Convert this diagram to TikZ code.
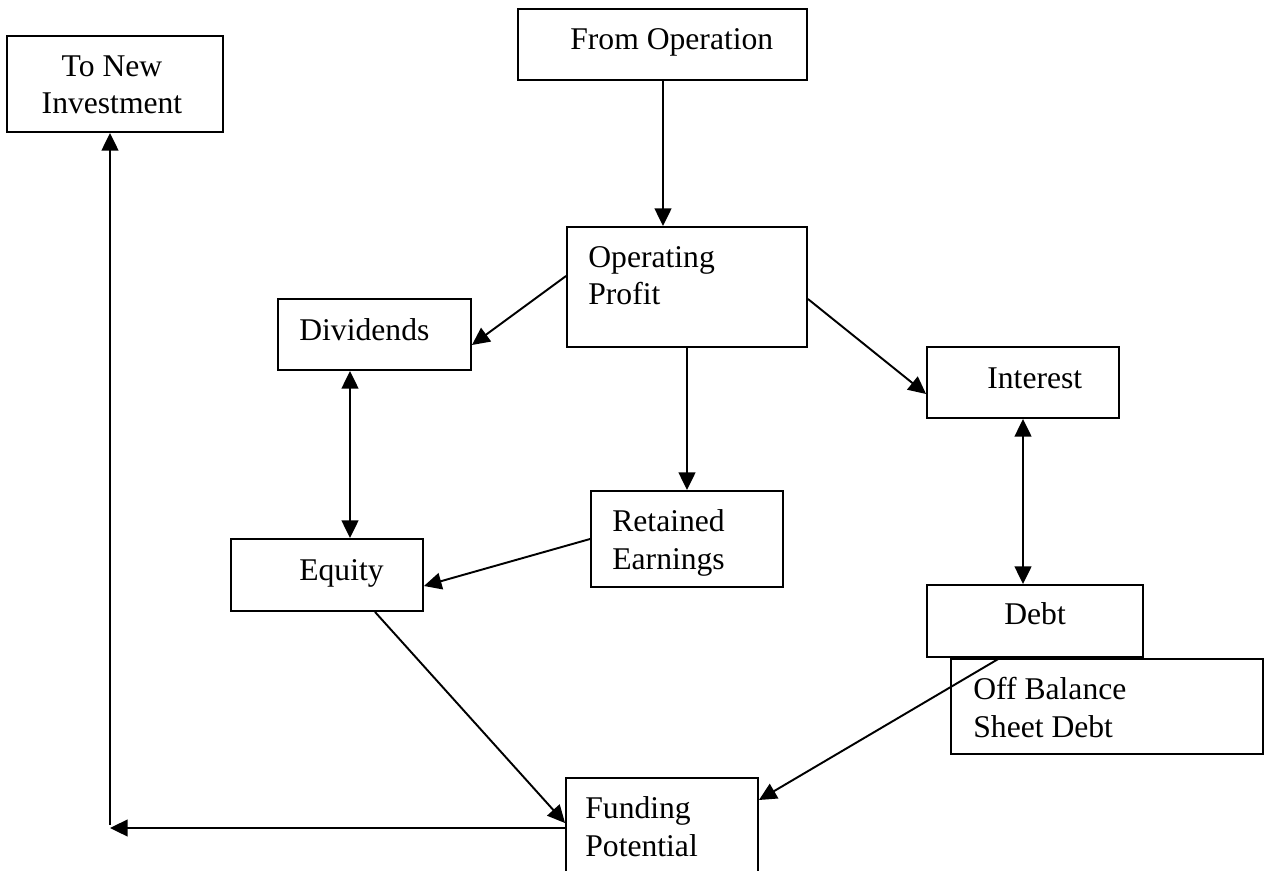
\documentclass[tikz,border=0pt]{standalone}
\usepackage{fontspec}
\setmainfont{Liberation Serif}
\usetikzlibrary{arrows.meta,calc}

\begin{document}
\begin{tikzpicture}[x=0.02cm,y=-0.02cm]
	\path [use as bounding box] (0,0) rectangle (1267,871);
	\tikzstyle{box} = [draw, line width=1.1pt, inner sep=0pt]
	\tikzstyle{txt} = [inner sep=0pt, font=\fontsize{18}{21.6}\selectfont]
	\tikzstyle{arr} = [line width=1.1pt, -{Triangle[length=10pt,width=9.5pt]}]
	\tikzstyle{darr} = [line width=1.1pt, {Triangle[length=10pt,width=9.5pt]}-{Triangle[length=10pt,width=9.5pt]}]
	% boxes
	\node[box, minimum width=4.32cm, minimum height=1.92cm] (newinv) at (115,84) {};
	\node[box, minimum width=5.78cm, minimum height=1.42cm] (fromop) at (662.5,44.5) {};
	\node[box, minimum width=4.8cm, minimum height=2.4cm] (opprofit) at (687,287) {};
	\node[box, minimum width=3.86cm, minimum height=1.42cm] (dividends) at (374.5,334.5) {};
	\node[box, minimum width=3.84cm, minimum height=1.42cm] (interest) at (1023,382.5) {};
	\node[box, minimum width=3.84cm, minimum height=1.92cm] (retained) at (687,539) {};
	\node[box, minimum width=3.84cm, minimum height=1.44cm] (equity) at (327,575) {};
	\node[box, minimum width=4.32cm, minimum height=1.44cm] (debt) at (1035,621) {};
	\node[box, minimum width=6.24cm, minimum height=1.9cm] (offbal) at (1107,706.5) {};
	\node[box, minimum width=3.84cm, minimum height=2.44cm] (funding) at (662,839) {};
	% texts (base = last line)
	\node[txt, anchor=base, align=center] (newinv-t) at (112,114) {To New\\Investment};
	\node[txt, anchor=base west] (fromop-t) at (570,50) {From Operation};
	\node[txt, anchor=base west, align=left] (opprofit-t) at (588,305) {Operating\\Profit};
	\node[txt, anchor=base west] (dividends-t) at (299,340) {Dividends};
	\node[txt, anchor=base west] (interest-t) at (987,388) {Interest};
	\node[txt, anchor=base west, align=left] (retained-t) at (612,569) {Retained\\Earnings};
	\node[txt, anchor=base west] (equity-t) at (299,580) {Equity};
	\node[txt, anchor=base west] (debt-t) at (1004,624) {Debt};
	\node[txt, anchor=base west, align=left] (offbal-t) at (973,737) {Off Balance\\Sheet Debt};
	\node[txt, anchor=base west, align=left] (funding-t) at (585,856) {Funding\\Potential};
	% connectors
	\draw[arr] ([shift={(0.5,0)}]fromop.south) -- ([shift={(0.5,0)}]fromop.south |- opprofit.north);
	\draw[arr] ([shift={(0,-11)}]opprofit.west) -- ([shift={(0,10.5)}]dividends.east);
	\draw[arr] ([shift={(0,12)}]opprofit.east) -- ([shift={(0,11.5)}]interest.west);
	\draw[arr] (opprofit.south) -- (retained.north);
	\draw[darr] ([shift={(-24.5,0)}]dividends.south) -- ([shift={(-24.5,0)}]dividends.south |- equity.north);
	\draw[darr] (interest.south) -- (interest.south |- debt.north);
	\draw[arr] (retained.west) -- ([shift={(0,11)}]equity.east);
	\draw[arr] ([shift={(48,0)}]equity.south) -- ([shift={(0,-16)}]funding.west);
	\draw[arr] ([shift={(-35,0)}]debt.south) -- ([shift={(0,-39)}]funding.east);
	\coordinate (corner) at (110,828);
	\draw[arr] ([shift={(0,-11)}]funding.west) -- (corner);
	\draw[arr] ([shift={(0,-3)}]corner) -- (corner |- newinv.south);
\end{tikzpicture}
\end{document}
